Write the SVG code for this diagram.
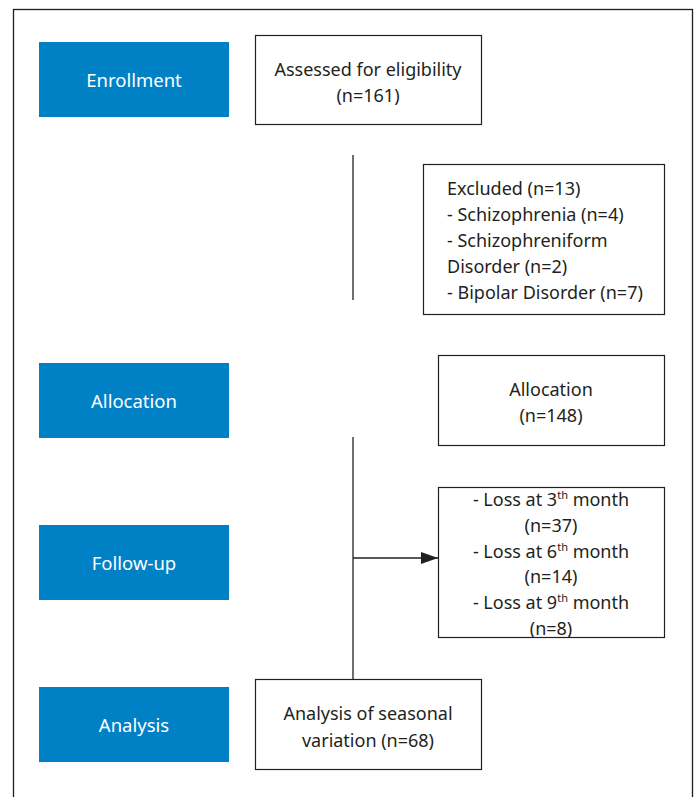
<svg xmlns="http://www.w3.org/2000/svg" width="696" height="797" viewBox="0 0 696 797">
<style>
.stage{fill:#0081C6;}
.box{fill:#fff;stroke:#231f20;stroke-width:1.2;}
.lt{font-family:"Noto Sans","Open Sans",sans-serif;font-size:18.5px;fill:#fff;text-anchor:middle;}
.t{font-family:"Noto Sans","Open Sans",sans-serif;font-size:18px;fill:#231f20;}
.c{text-anchor:middle;}
.ln{stroke:#231f20;stroke-width:1.3;fill:none;}
</style>
<defs>
<marker id="ah" markerWidth="17" markerHeight="12" refX="17" refY="6" orient="auto" markerUnits="userSpaceOnUse">
<path d="M0,0 L17,6 L0,12 Z" fill="#231f20"/>
</marker>
</defs>
<rect x="0" y="0" width="696" height="797" fill="#fff"/>
<rect x="13.5" y="9.5" width="679" height="800" fill="none" stroke="#231f20" stroke-width="1.3"/>

<g id="enrollment"><rect class="stage" x="39" y="42" width="190" height="75"/><text class="lt" x="134" y="87">Enrollment</text></g>
<g id="allocation-stage"><rect class="stage" x="39" y="363" width="190" height="75"/><text class="lt" x="134" y="408">Allocation</text></g>
<g id="followup"><rect class="stage" x="39" y="525" width="190" height="75"/><text class="lt" x="134" y="570">Follow-up</text></g>
<g id="analysis-stage"><rect class="stage" x="39" y="687" width="190" height="75"/><text class="lt" x="134" y="732">Analysis</text></g>

<g id="assessed"><rect class="box" x="255.5" y="35.5" width="226" height="89"/>
<text class="t c" x="368" y="76">Assessed for eligibility</text>
<text class="t c" x="368" y="102">(n=161)</text></g>

<g id="excluded"><rect class="box" x="423.5" y="164.5" width="241" height="150"/>
<text class="t" x="447" y="195">Excluded (n=13)</text>
<text class="t" x="447" y="221">- Schizophrenia (n=4)</text>
<text class="t" x="447" y="247">- Schizophreniform</text>
<text class="t" x="447" y="273">Disorder (n=2)</text>
<text class="t" x="447" y="299">- Bipolar Disorder (n=7)</text></g>

<g id="allocation"><rect class="box" x="438.5" y="355.5" width="226" height="90"/>
<text class="t c" x="551" y="396">Allocation</text>
<text class="t c" x="551" y="422">(n=148)</text></g>

<g id="loss"><rect class="box" x="438.5" y="487.5" width="226" height="150"/>
<text class="t c" x="551" y="506">- Loss at 3<tspan font-size="11" dy="-7">th</tspan><tspan dy="7"> month</tspan></text>
<text class="t c" x="551" y="532">(n=37)</text>
<text class="t c" x="551" y="558">- Loss at 6<tspan font-size="11" dy="-7">th</tspan><tspan dy="7"> month</tspan></text>
<text class="t c" x="551" y="583">(n=14)</text>
<text class="t c" x="551" y="609">- Loss at 9<tspan font-size="11" dy="-7">th</tspan><tspan dy="7"> month</tspan></text>
<text class="t c" x="551" y="635">(n=8)</text></g>

<g id="analysis"><rect class="box" x="255.5" y="679.5" width="226" height="90"/>
<text class="t c" x="368" y="720">Analysis of seasonal</text>
<text class="t c" x="368" y="747">variation (n=68)</text></g>

<g id="connectors">
<line class="ln" x1="353" y1="155" x2="353" y2="300"/>
<line class="ln" x1="353" y1="437" x2="353" y2="680"/>
<line class="ln" x1="353" y1="558" x2="438" y2="558" marker-end="url(#ah)"/>
</g>
</svg>
